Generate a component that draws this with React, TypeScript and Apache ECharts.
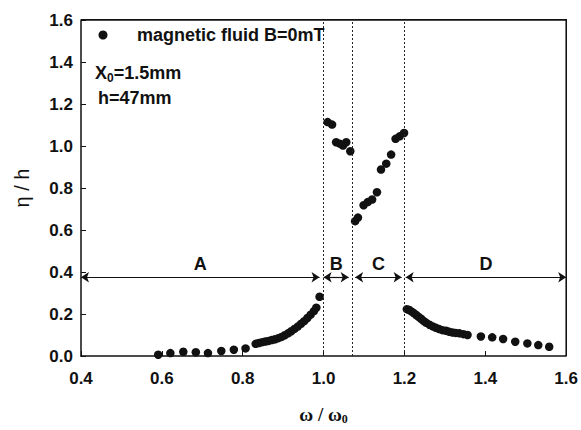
import React, { useEffect, useRef, useState } from "react";
import * as echarts from "echarts";

// omega / omega0 values
const omega = [
  0.591, 0.621, 0.653, 0.684, 0.714, 0.747, 0.778, 0.807,
  0.832, 0.840, 0.848, 0.856, 0.864, 0.872, 0.880, 0.888, 0.896, 0.904,
  0.912, 0.920, 0.928, 0.936, 0.944, 0.952, 0.960, 0.968, 0.976, 0.982, 0.990,
  1.010, 1.021, 1.031, 1.040, 1.048, 1.056, 1.066,
  1.078, 1.085, 1.099, 1.109, 1.120, 1.132, 1.142, 1.155, 1.167, 1.178, 1.188, 1.199,
  1.206, 1.212, 1.218, 1.224, 1.230, 1.236, 1.242, 1.248, 1.254, 1.262, 1.270,
  1.278, 1.286, 1.294, 1.303, 1.311, 1.319, 1.327, 1.336, 1.346, 1.356,
  1.389, 1.417, 1.444, 1.474, 1.504, 1.531, 1.558,
];
// eta / h values
const eta = [
  0.006, 0.014, 0.020, 0.018, 0.014, 0.024, 0.030, 0.036,
  0.058, 0.062, 0.066, 0.069, 0.072, 0.076, 0.080, 0.085, 0.091, 0.099,
  0.108, 0.118, 0.129, 0.140, 0.153, 0.166, 0.181, 0.197, 0.214, 0.230, 0.282,
  1.114, 1.102, 1.018, 1.011, 1.002, 1.018, 0.975,
  0.642, 0.659, 0.718, 0.733, 0.745, 0.780, 0.888, 0.916, 0.959, 1.034, 1.046, 1.062,
  0.223, 0.219, 0.211, 0.203, 0.194, 0.185, 0.176, 0.166, 0.158, 0.149, 0.141,
  0.134, 0.128, 0.123, 0.120, 0.115, 0.112, 0.110, 0.108, 0.104, 0.100,
  0.093, 0.089, 0.081, 0.068, 0.060, 0.052, 0.044,
];

const seriesName = "magnetic fluid B=0mT";
const regionNames = ["A", "B", "C", "D"];
const regionStart = [0.4, 1.0, 1.078, 1.203];
const regionEnd = [0.99, 1.062, 1.193, 1.6];
const regionLevel = 0.375;
const dividers = [1.005, 1.07, 1.197];
const xMin = 0.4;
const xMax = 1.6;
const yMin = 0;
const yMax = 1.6;
const step = 0.2;
const frameX = [xMin, xMax, xMax];
const frameY = [yMax, yMax, yMin];

const FONT = "'Liberation Sans', Arial, sans-serif";
const INK = "#111";

type Box = { left: number; top: number; width: number; height: number };

export default function App() {
  const ref = useRef<HTMLDivElement>(null);
  const [box, setBox] = useState<Box | null>(null);

  useEffect(() => {
    if (!ref.current) return;
    const chart = echarts.init(ref.current, undefined, { renderer: "svg" });

    const arrowData = regionNames.map((n, i) => [
      { name: n, coord: [regionStart[i], regionLevel] },
      { coord: [regionEnd[i], regionLevel] },
    ]);

    const tickLabel = {
      formatter: (v: number) => v.toFixed(1),
      fontSize: 17,
      fontWeight: "bold",
      fontFamily: FONT,
      color: INK,
    };

    chart.setOption({
      animation: false,
      grid: { left: 81, top: 20, right: 14, bottom: 73 },
      xAxis: {
        type: "value",
        min: xMin,
        max: xMax,
        interval: step,
        splitLine: { show: false },
        axisLine: { lineStyle: { color: INK, width: 1.5 } },
        axisTick: { inside: true, length: 5, lineStyle: { color: INK } },
        axisLabel: { ...tickLabel, margin: 14 },
        name: "ω / ω{sub|0}",
        nameLocation: "middle",
        nameGap: 47,
        nameTextStyle: {
          fontSize: 19,
          fontWeight: "bold",
          fontFamily: "'Liberation Serif', 'DejaVu Serif', serif",
          color: INK,
          rich: {
            sub: {
              fontSize: 12,
              fontWeight: "bold",
              fontFamily: "'Liberation Serif', serif",
              color: INK,
              verticalAlign: "bottom",
              padding: [10, 0, 0, 0],
            },
          },
        },
      },
      yAxis: {
        type: "value",
        min: yMin,
        max: yMax,
        interval: step,
        splitLine: { show: false },
        axisLine: { show: true, lineStyle: { color: INK, width: 1.5 } },
        axisTick: { show: true, inside: true, length: 5, lineStyle: { color: INK } },
        axisLabel: { ...tickLabel, margin: 8 },
        name: "η / h",
        nameLocation: "middle",
        nameGap: 49,
        nameTextStyle: { fontSize: 20, fontFamily: FONT, color: INK },
      },
      series: [
        {
          type: "line",
          clip: false,
          symbol: "none",
          lineStyle: { color: INK, width: 1.5 },
          data: frameX.map((x, i) => [x, frameY[i]]),
        },
        {
          name: seriesName,
          type: "scatter",
          symbol: "circle",
          symbolSize: 8.5,
          itemStyle: { color: INK, opacity: 1 },
          data: omega.map((x, i) => [x, eta[i]]),
          z: 3,
        },
        {
          type: "scatter",
          data: [],
          markLine: {
            silent: true,
            symbol: "none",
            label: { show: false },
            lineStyle: { color: "#222", width: 1, type: [2, 2] },
            data: dividers.map((v) => ({ xAxis: v })),
          },
        },
        {
          type: "scatter",
          data: [],
          markLine: {
            silent: true,
            symbol: ["arrow", "arrow"],
            symbolSize: 8,
            lineStyle: { color: INK, width: 1.2, type: "solid" },
            label: {
              show: true,
              position: "insideMiddleTop",
              formatter: "{b}",
              fontSize: 18,
              fontWeight: "bold",
              fontFamily: FONT,
              color: INK,
              distance: 4,
            },
            data: arrowData,
          },
        },
      ],
      graphic: [
        {
          type: "circle",
          shape: { cx: 103, cy: 35, r: 4.5 },
          style: { fill: INK },
        },
        {
          type: "text",
          x: 137,
          y: 35,
          style: {
            text: seriesName,
            fontSize: 18,
            fontWeight: "bold",
            fontFamily: FONT,
            fill: INK,
            verticalAlign: "middle",
          },
        },
        {
          type: "text",
          x: 95,
          y: 73,
          style: {
            text: "X{sub|0}=1.5mm",
            fontSize: 18,
            fontWeight: "bold",
            fontFamily: FONT,
            fill: INK,
            verticalAlign: "middle",
            rich: {
              sub: {
                fontSize: 12,
                fontWeight: "bold",
                fontFamily: FONT,
                fill: INK,
                padding: [9, 0, 0, 0],
              },
            },
          },
        },
        {
          type: "text",
          x: 98,
          y: 98,
          style: {
            text: "h=47mm",
            fontSize: 18,
            fontWeight: "bold",
            fontFamily: FONT,
            fill: INK,
            verticalAlign: "middle",
          },
        },
      ],
    });

    // plot frame box from the chart's own scales
    let tl: any = null;
    let br: any = null;
    try {
      tl = chart.convertToPixel({ gridIndex: 0 }, [xMin, yMax]);
      br = chart.convertToPixel({ gridIndex: 0 }, [xMax, yMin]);
    } catch (e) {
      tl = null;
    }
    const ok =
      Array.isArray(tl) && Array.isArray(br) &&
      [tl[0], tl[1], br[0], br[1]].every((v) => typeof v === "number" && isFinite(v));
    const L = ok ? tl[0] : 81;
    const T = ok ? tl[1] : 20;
    const R = ok ? br[0] : 567;
    const B = ok ? br[1] : 357;
    setBox({ left: L, top: T, width: R - L, height: B - T });

    return () => chart.dispose();
  }, []);

  return (
    <div style={{ position: "absolute", left: 0, top: 0, width: 581, height: 430 }}>
      <div ref={ref} style={{ position: "absolute", left: 0, top: 0, width: 581, height: 430 }} />
      {box && (
        <div
          style={{
            position: "absolute",
            left: box.left,
            top: box.top - 0.75,
            width: box.width + 0.75,
            height: box.height + 0.75,
            boxSizing: "border-box",
            borderTop: `1.5px solid ${INK}`,
            borderRight: `1.5px solid ${INK}`,
            pointerEvents: "none",
          }}
        />
      )}
    </div>
  );
}
